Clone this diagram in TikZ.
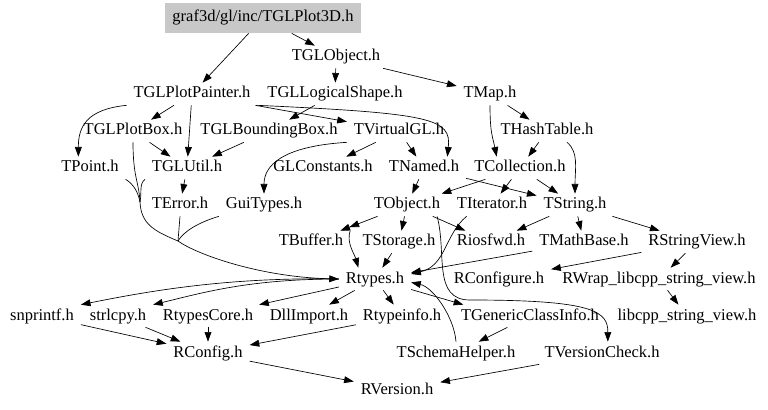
\documentclass[tikz,border=0pt]{standalone}
\usepackage{fontspec}
\setmainfont{Liberation Serif}
\usetikzlibrary{arrows.meta}
\definecolor{rootgray}{HTML}{C8C8C8}
\tikzset{>={Triangle[length=5.8pt,width=4.1pt]},line width=.55pt,
  every node/.style={font=\fontsize{9.9}{12}\selectfont},
  hdr/.style={inner xsep=4pt,inner ysep=2pt,text height=7pt,text depth=2.2pt},
  rootbox/.style={hdr,fill=rootgray,inner xsep=4.2pt,minimum height=18pt},
  dep/.style={->},
  ddep/.style={-{Triangle[length=5.8pt,width=4.1pt] Triangle[length=5.8pt,width=4.1pt]}}}
\begin{document}
\begin{tikzpicture}[x=.6pt,y=-.6pt]
\useasboundingbox (0,0) rectangle (768,410);
\node[rootbox] (plot3d) at (263,18) {graf3d/gl/inc/TGLPlot3D.h};
\foreach \nm/\x/\y/\lbl in {globj/336/57/TGLObject.h,
  painter/192/94/TGLPlotPainter.h,lshape/335/94/TGLLogicalShape.h,tmap/490/94/TMap.h,
  plotbox/133/131/TGLPlotBox.h,bbox/269/131/TGLBoundingBox.h,vgl/399/131/TVirtualGL.h,hash/547/131/THashTable.h,
  tpoint/90/168/TPoint.h,glutil/187/168/TGLUtil.h,glconst/323/168/GLConstants.h,tnamed/424/168/TNamed.h,tcoll/520/168/TCollection.h,
  terror/180/205/TError.h,guitypes/264/205/GuiTypes.h,tobject/407/205/TObject.h,titer/492/205/TIterator.h,tstring/575/205/TString.h,
  tbuffer/311/242/TBuffer.h,tstorage/399/242/TStorage.h,riosfwd/491/242/Riosfwd.h,tmath/584/242/TMathBase.h,rsv/697/242/RStringView.h,
  rtypes/375/279/Rtypes.h,rconfigure/499/279/RConfigure.h,rwrap/659/279/RWrap\_libcpp\_string\_view.h,
  snprintf/42/316/snprintf.h,strlcpy/118/316/strlcpy.h,rtcore/208/316/RtypesCore.h,dllimport/309/316/DllImport.h,
  rtinfo/402/316/Rtypeinfo.h,tgci/530/316/TGenericClassInfo.h,libcpp/687/316/libcpp\_string\_view.h,
  rconfig/208/353/RConfig.h,tschema/456/353/TSchemaHelper.h,tvcheck/602/353/TVersionCheck.h,
  rversion/397/390/RVersion.h}
  \node[hdr] (\nm) at (\x,\y) {\lbl};
\foreach \a/\b in {plot3d/painter,plot3d/globj,globj/lshape,globj/tmap,painter/plotbox,painter/glutil,
  painter/vgl,lshape/bbox,plotbox/glutil,bbox/glutil,vgl/glconst,vgl/tnamed,tmap/hash,hash/tcoll,
  glutil/terror,tnamed/tobject,tnamed/tstring,tcoll/tobject,tcoll/titer,tcoll/tstring,tobject/tstorage,
  tobject/riosfwd,tstorage/rtypes,tstring/riosfwd,tstring/tmath,tstring/rsv,tmath/rtypes,rsv/rconfigure,
  rsv/rwrap,rwrap/libcpp,rtypes/rtcore,rtypes/dllimport,rtypes/rtinfo,tgci/tschema,snprintf/rconfig,
  strlcpy/rconfig,rtcore/rconfig,rtinfo/rconfig,rconfig/rversion,tvcheck/rversion}
  \draw[dep] (\a) -- (\b);
\draw[dep] (painter.south west) .. controls +(-40,4) and +(0,-30) .. ([xshift=-7pt]tpoint.north);
\draw[dep] (painter.south east) .. controls +(175,8) and +(4,-38) .. ([xshift=14pt]tnamed.north);
\draw[dep] (vgl.south west) .. controls +(-65,4) and +(0,-28) .. (guitypes.north);
\draw[dep] (tmap.south) .. controls +(0,28) and +(-4,-20) .. ([xshift=-14pt]tcoll.north);
\draw[dep] ([xshift=12pt]hash.south) .. controls +(12,10) and +(0,-25) .. (tstring.north);
\coordinate (j1) at (140,202); \coordinate (j2) at (178,241); \coordinate (kv) at (470,300);
\draw (plotbox.south) .. controls +(0,35) and +(-1,-20) .. (j1);
\draw (tpoint.south east) .. controls +(8,5) and +(-2,-10) .. (j1);
\draw (glutil.south west) .. controls +(-6,5) and +(2,-10) .. (j1);
\draw (j1) .. controls +(1,22) and +(-24,-10) .. (j2);
\draw (terror.south) -- (j2);
\draw (guitypes.south west) .. controls +(-20,6) and +(6,-10) .. (j2);
\draw[dep] (j2) .. controls +(18,13) and +(-80,-2) .. (rtypes.west);
\draw[ddep] (tobject) -- (tbuffer);
\draw[dep] (tbuffer.north east) .. controls +(-4,12) and +(-4,-14) .. ([xshift=-10pt]rtypes.north);
\draw[dep] ([xshift=10pt]titer.south west) .. controls +(-22,18) and +(35,-8) .. ([yshift=3pt]rtypes.east);
\draw[dep] ([xshift=-6pt]tobject.south east) .. controls +(10,36) and +(-38,0) .. (kv)
  .. controls +(125,0) and +(0,-30) .. ([xshift=3.5pt]tvcheck.north);
\draw[dep] (rtypes) -- ([xshift=-40pt]tgci.north);
\draw[dep] (tschema.north) .. controls +(-2,-25) and +(22,5) .. ([yshift=-2pt]rtypes.east);
\draw[dep] (rtypes.west) .. controls +(-110,-2) and +(70,-14) .. (snprintf.north east);
\draw[dep] (rtypes.west) .. controls +(-90,0) and +(50,-12) .. (strlcpy.north east);
\end{tikzpicture}
\end{document}
